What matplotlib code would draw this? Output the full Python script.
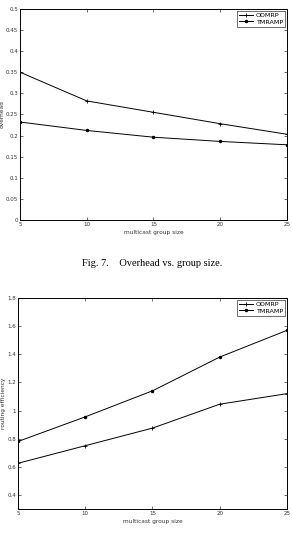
import matplotlib
matplotlib.use('Agg')
import matplotlib.pyplot as plt

group_size = [5, 10, 15, 20, 25]

# Fig. 7 - overhead
overhead_odmrp = [0.350, 0.282, 0.255, 0.228, 0.203]
overhead_tmramp = [0.232, 0.212, 0.196, 0.186, 0.178]
overhead_ticks = [0, 0.05, 0.1, 0.15, 0.2, 0.25, 0.3, 0.35, 0.4, 0.45, 0.5]

# routing efficiency
eff_odmrp = [0.625, 0.750, 0.875, 1.045, 1.120]
eff_tmramp = [0.780, 0.955, 1.140, 1.380, 1.570]
eff_ticks = [0.4, 0.6, 0.8, 1.0, 1.2, 1.4, 1.6, 1.8]

plt.rcParams['font.family'] = 'DejaVu Sans'

fig = plt.figure(figsize=(2.92, 5.43), dpi=100)
ax1 = fig.add_axes([0.0685, 0.595, 0.914, 0.3886])
ax2 = fig.add_axes([0.0616, 0.0626, 0.921, 0.3886])


def style(ax, ticks, ylim, ylabel):
    ax.set_xlim(5, 25)
    ax.set_ylim(*ylim)
    ax.set_xticks(group_size)
    ax.set_yticks(ticks)
    ax.set_yticklabels(['%g' % t for t in ticks])
    ax.tick_params(labelsize=4, direction='in', length=2, width=0.5,
                   top=True, right=True, pad=1.5, colors='#333333')
    for s in ax.spines.values():
        s.set_linewidth(0.7)
    ax.set_xlabel('multicast group size', fontsize=4.2, labelpad=2, color='#333333')
    ax.set_ylabel(ylabel, fontsize=4.2, labelpad=1, color='#333333')


def add_legend(ax):
    leg = ax.legend(loc='upper right', fontsize=4.6, frameon=True, fancybox=False,
                    edgecolor='black', handlelength=2.2, borderpad=0.3, labelspacing=0.15,
                    handletextpad=0.4, borderaxespad=0.3)
    leg.get_frame().set_linewidth(0.5)


ax1.plot(group_size, overhead_odmrp, color='black', lw=0.7, marker='+', ms=3, mew=0.6, label='ODMRP')
ax1.plot(group_size, overhead_tmramp, color='black', lw=0.7, marker='.', ms=3, label='TMRAMP')
style(ax1, overhead_ticks, (0, 0.5), 'overhead')
add_legend(ax1)

ax2.plot(group_size, eff_odmrp, color='black', lw=0.7, marker='+', ms=3, mew=0.6, label='ODMRP')
ax2.plot(group_size, eff_tmramp, color='black', lw=0.7, marker='.', ms=3, label='TMRAMP')
style(ax2, eff_ticks, (0.3, 1.8), 'routing efficiency')
add_legend(ax2)

fig.text(0.52, 1 - 263 / 543, 'Fig. 7.    Overhead vs. group size.', ha='center', va='center',
         fontsize=7.5, family='Liberation Serif')

fig.savefig('out.png', dpi=100)
